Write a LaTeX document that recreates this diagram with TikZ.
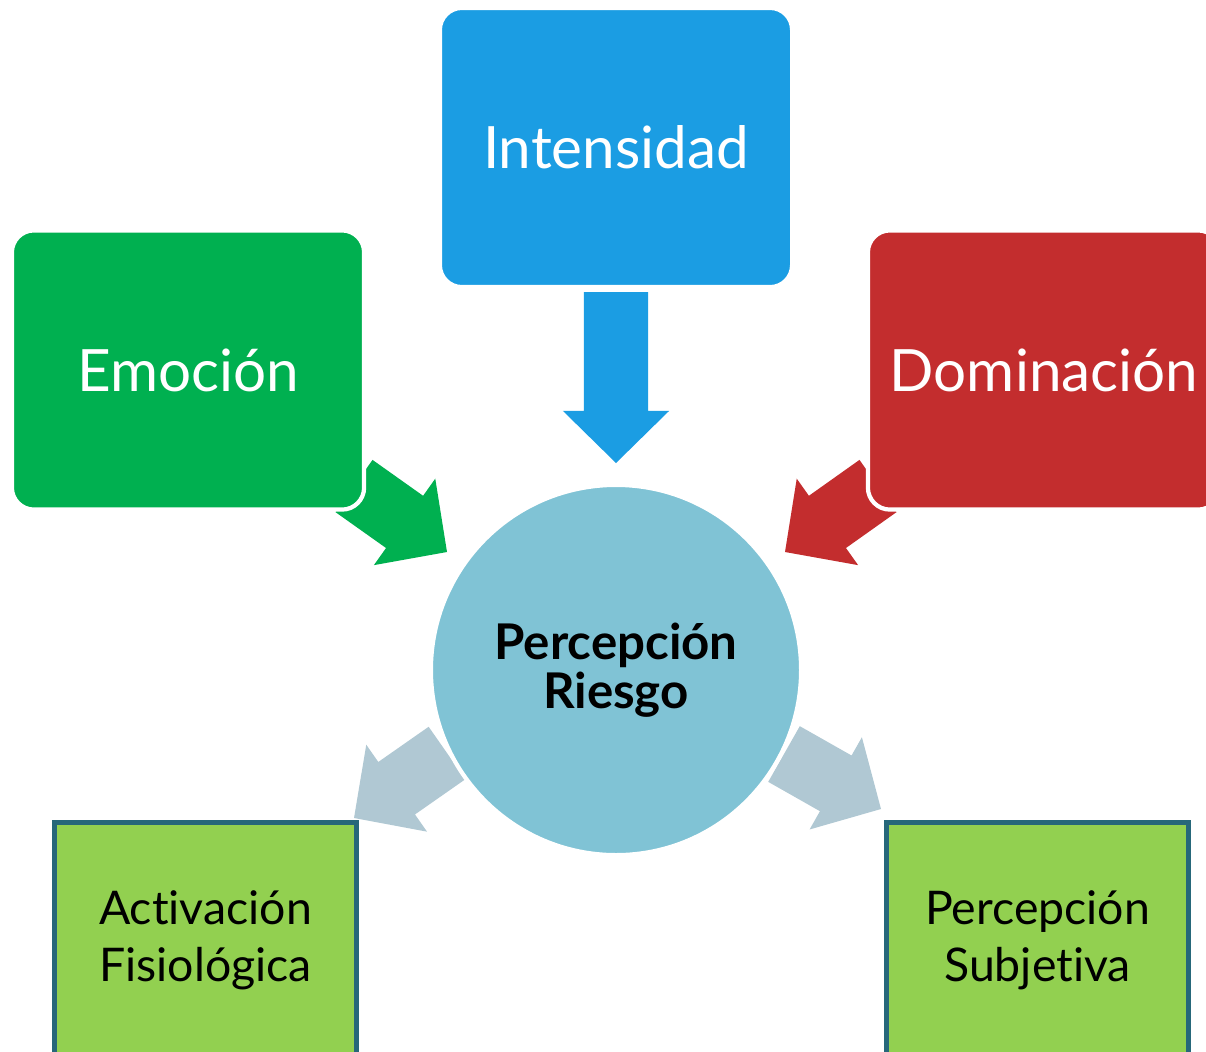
\documentclass[tikz,border=0pt]{standalone}
\usepackage{fontspec}
\setmainfont{Lato}[Ligatures=NoCommon]
\usetikzlibrary{calc}

\definecolor{emocion}{RGB}{0,176,80}
\definecolor{intensidad}{RGB}{27,157,227}
\definecolor{dominacion}{RGB}{195,45,46}
\definecolor{riesgo}{RGB}{128,195,213}
\definecolor{flecha}{RGB}{176,200,211}
\definecolor{hoja}{RGB}{146,208,80}
\definecolor{borde}{RGB}{38,103,122}

\tikzset{
	topbox/.style={rectangle, rounded corners=0.22cm, draw=white, line width=1.2pt,
		text=white, minimum width=3.52cm, minimum height=2.79cm,
		font=\fontsize{16.6}{20}\selectfont},
	outbox/.style={rectangle, draw=borde, line width=1.4pt, fill=hoja,
		minimum width=3.01cm, minimum height=2.34cm, align=center,
		font=\fontsize{13.2}{16.2}\selectfont},
}

\begin{document}
\begin{tikzpicture}[x=0.01cm, y=-0.01cm]
		\useasboundingbox (0, 0) rectangle (1206, 1051);
		\clip (0, 0) rectangle (1206, 1051);

		% tails and tips of the block arrows
		\coordinate (iT) at (616, 292);  \coordinate (iP) at (616, 463);
		\coordinate (eT) at (354, 486);  \coordinate (eP) at (447, 552);
		\coordinate (dT) at (878, 486);  \coordinate (dP) at (785, 552);
		\coordinate (aT) at (447, 753);  \coordinate (aP) at (354, 818);
		\coordinate (sT) at (784, 754);  \coordinate (sP) at (881, 809);

		\foreach \col/\ta/\tb in {intensidad/iT/iP, emocion/eT/eP, dominacion/dT/dP,
				flecha/aT/aP, flecha/sT/sP} {
			\coordinate (h) at ($(\tb)!0.52cm!(\ta)$);
			\fill[\col]
			($(\ta)!0.32cm!90:(\tb)$) --
			($(h)!0.32cm!90:(\tb)$) --
			($(h)!0.53cm!90:(\tb)$) --
			(\tb) --
			($(h)!0.53cm!-90:(\tb)$) --
			($(h)!0.32cm!-90:(\tb)$) --
			($(\ta)!0.32cm!-90:(\tb)$) --
			cycle;
		}

		\node[topbox, fill=intensidad] (int) at (616, 147.5) {Intensidad};
		\node[topbox, fill=emocion] (emo) at (188, 370) {Emoción};
		\node[topbox, fill=dominacion] (dom) at (1044, 370) {Dominación};

		\node[circle, fill=riesgo, draw=white, line width=1.2pt, minimum size=3.70cm,
			align=center, font=\fontsize{14}{14}\selectfont\bfseries]
		(per) at (616, 670) {Percepción\\Riesgo};

		\node[outbox] (act) at (205.5, 940) {Activación\\Fisiológica};
		\node[outbox] (sub) at (1037.5, 940) {Percepción\\Subjetiva};
	\end{tikzpicture}
\end{document}
